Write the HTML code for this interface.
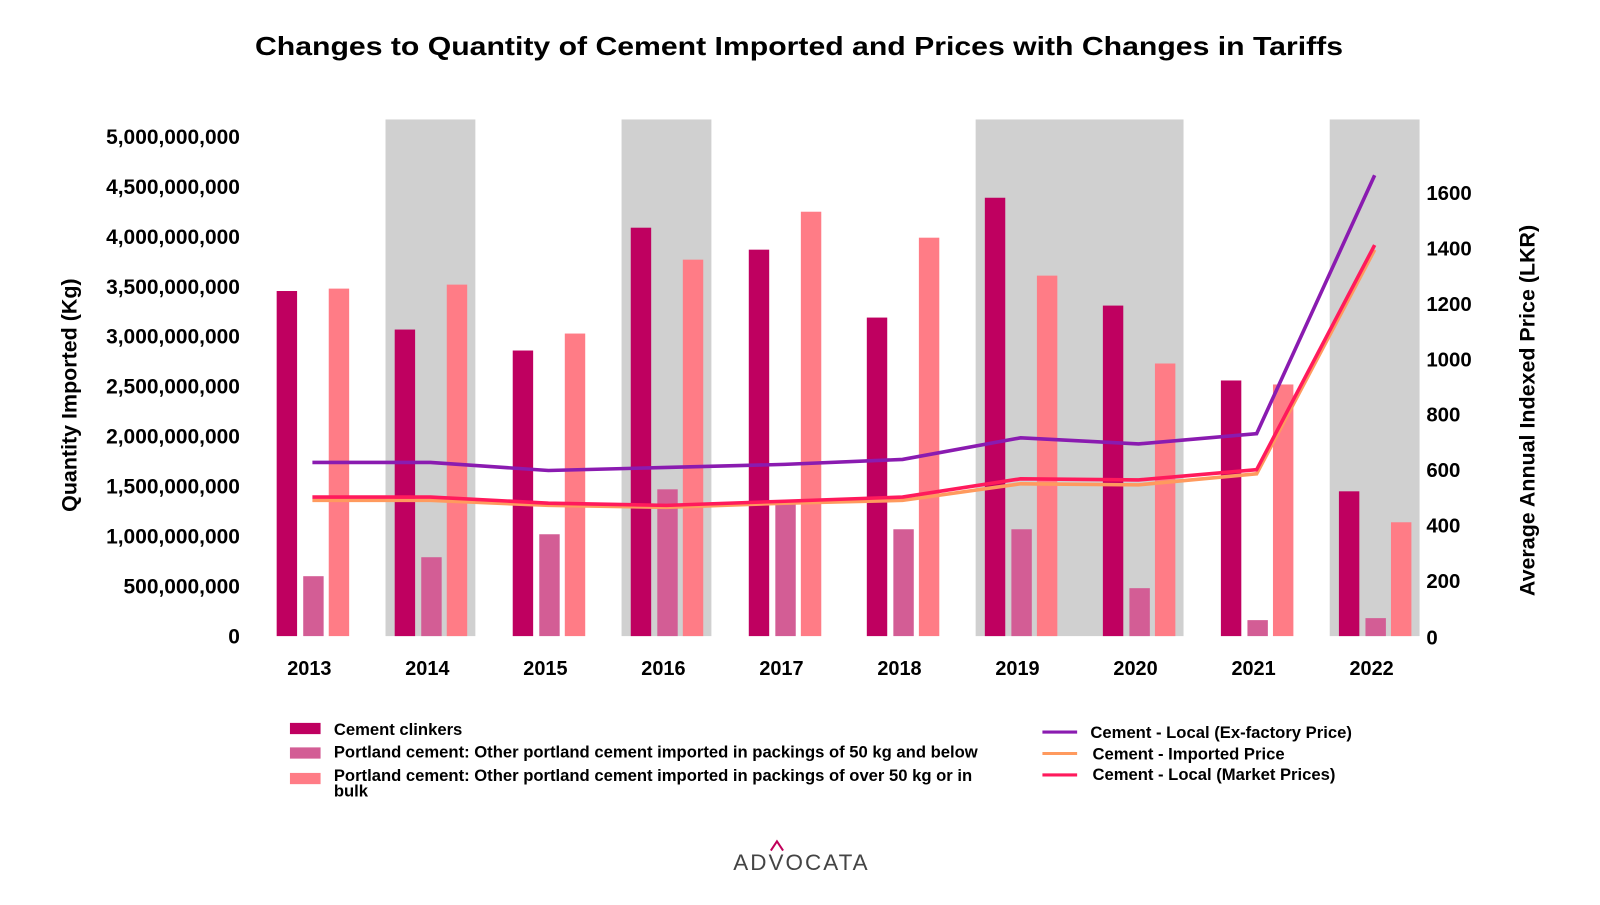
<!DOCTYPE html>
<html><head><meta charset="utf-8"><style>
body{margin:0;background:#fff;width:1600px;height:900px;overflow:hidden;font-family:"Liberation Sans",sans-serif;}
svg text{font-family:"Liberation Sans",sans-serif;}
</style></head><body>
<svg id="c" width="1600" height="900" xmlns="http://www.w3.org/2000/svg">
<text x="255" y="55" textLength="1088" lengthAdjust="spacingAndGlyphs" font-size="26" font-weight="bold" fill="#000">Changes to Quantity of Cement Imported and Prices with Changes in Tariffs</text>
<g transform="translate(1,-1) scale(1.021)">
<g id="bands"></g><g id="bars"></g><g id="lines"></g><g id="axes"></g>
<text transform="translate(74,388) rotate(-90)" text-anchor="middle" font-size="21" font-weight="bold">Quantity Imported (Kg)</text>
<text transform="translate(1502,403) rotate(-90)" text-anchor="middle" font-size="21" font-weight="bold">Average Annual Indexed Price (LKR)</text>
<g font-size="16.3" font-weight="bold">
<rect x="283" y="709" width="30" height="11" fill="#bf0060"/>
<text x="326" y="721">Cement clinkers</text>
<rect x="283" y="733" width="30" height="11" fill="#d35d95"/>
<text x="326" y="743">Portland cement: Other portland cement imported in packings of 50 kg and below</text>
<rect x="283" y="758" width="30" height="11" fill="#ff7c86"/>
<text x="326" y="766">Portland cement: Other portland cement imported in packings of over 50 kg or in</text>
<text x="326" y="781">bulk</text>
<line x1="1020" y1="718" x2="1054" y2="718" stroke="#8a1bb0" stroke-width="3"/>
<text x="1067" y="724">Cement - Local (Ex-factory Price)</text>
<line x1="1020" y1="739" x2="1054" y2="739" stroke="#ff9a5e" stroke-width="3"/>
<text x="1069" y="745">Cement - Imported Price</text>
<line x1="1020" y1="760" x2="1054" y2="760" stroke="#ff1a5c" stroke-width="3"/>
<text x="1069" y="765">Cement - Local (Market Prices)</text>
</g>
<text x="784" y="853" text-anchor="middle" font-size="22" letter-spacing="2" fill="#444">ADVOCATA</text>
<path d="M754,834 L760,825 L766,834" fill="none" stroke="#c0005a" stroke-width="2"/>
</g>
</svg>
<script>
const years=["2013","2014","2015","2016","2017","2018","2019","2020","2021","2022"];
const clinkers=[3.456e9,3.07e9,2.86e9,4.09e9,3.87e9,3.19e9,4.39e9,3.31e9,2.56e9,1.45e9];
const smallPacks=[0.60e9,0.79e9,1.02e9,1.47e9,1.32e9,1.07e9,1.07e9,0.48e9,0.16e9,0.18e9];
const bulk=[3.48e9,3.52e9,3.03e9,3.77e9,4.25e9,3.99e9,3.61e9,2.73e9,2.52e9,1.14e9];
const exFactory=[627,627,598,609,620,638,716,694,731,1664];
const imported=[490,490,472,465,480,490,550,546,586,1395];
const market=[502,502,480,472,487,502,568,564,601,1412];
const leftTicks=["0","500,000,000","1,000,000,000","1,500,000,000","2,000,000,000","2,500,000,000","3,000,000,000","3,500,000,000","4,000,000,000","4,500,000,000","5,000,000,000"];
const rightTicks=[0,200,400,600,800,1000,1200,1400,1600];
const shadedFrom=[1,3,6,9];
const shadedTo=[1,3,7,9];
const NS="http://www.w3.org/2000/svg";
const y0=624;
const yL=v=>y0-v/5e9*489;
const yR=v=>y0-v/1600*434;
const xC=i=>305+i*115.6;
function mk(parent,tag,attrs){const e=document.createElementNS(NS,tag);for(const k in attrs)e.setAttribute(k,attrs[k]);document.getElementById(parent).appendChild(e);return e;}
shadedFrom.forEach((a,k)=>{
 const b=shadedTo[k];
 const r=mk('bands','rect',{x:xC(a)-44,y:118,width:xC(b)-xC(a)+88,height:y0-118,fill:'#d0d0d0'});
 
 
});
const series=[[clinkers,-25,'#bf0060','clinkers'],[smallPacks,1,'#d35d95','small-packs'],[bulk,26,'#ff7c86','bulk']];
series.forEach(([arr,off,col,nm])=>{arr.forEach((v,i)=>{
 const r=mk('bars','rect',{x:xC(i)+off-10,y:yL(v),width:20,height:y0-yL(v),fill:col});
 
 
});});
[[imported,'#ff9a5e','imported'],[market,'#ff1a5c','market'],[exFactory,'#8a1bb0','exfactory']].forEach(([arr,col,nm])=>{
 const p=mk('lines','polyline',{points:arr.map((v,i)=>xC(i)+','+yR(v)).join(' '),fill:'none',stroke:col,'stroke-width':3.5});
 
 
});
leftTicks.forEach((t,i)=>{
 const e=mk('axes','text',{x:234,y:yL(i*5e8)+7,'text-anchor':'end','font-size':20.5,'font-weight':'bold'});e.textContent=t;
 
 
});
rightTicks.forEach(t=>{
 const e=mk('axes','text',{x:1396,y:yR(t)+7-(t===0?-1:0),'font-size':20,'font-weight':'bold'});e.textContent=t;
 
 
});
years.forEach((y,i)=>{
 const e=mk('axes','text',{x:xC(i)-3,y:662,'text-anchor':'middle','font-size':19.5,'font-weight':'bold'});e.textContent=y;
 
 
});
</script>
</body></html>
